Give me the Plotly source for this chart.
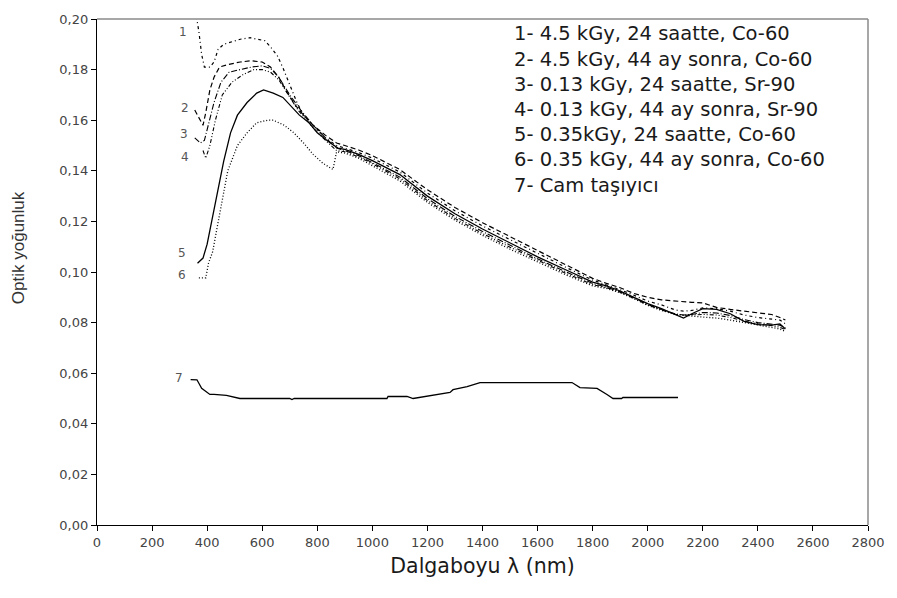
import plotly.graph_objects as go

# ---------------- data ----------------
nir_x = [900, 950, 1000, 1100, 1200, 1300, 1400, 1500, 1600, 1700, 1800, 1850, 1900,
         1950, 2000, 2050, 2100, 2130, 2160, 2200, 2250, 2300, 2350, 2400, 2450, 2480, 2500]

c1_vis_x = [355, 370, 380, 390, 410, 425, 440, 460, 490, 520, 556, 590, 610, 630, 655, 676, 700, 726, 750, 785, 830, 870]
c1_vis_y = [0.205, 0.195, 0.186, 0.181, 0.181, 0.183, 0.188, 0.190, 0.191, 0.192, 0.1926, 0.192, 0.1914, 0.189, 0.1855, 0.1805, 0.174, 0.167, 0.162, 0.158, 0.153, 0.150]
c1_nir_y = [0.1490, 0.1472, 0.1450, 0.1395, 0.1312, 0.1242, 0.1182, 0.1128, 0.1072, 0.1020, 0.0968, 0.0950, 0.0930,
            0.0908, 0.0885, 0.0870, 0.0850, 0.0845, 0.0848, 0.0858, 0.0855, 0.0845, 0.0830, 0.0820, 0.0815, 0.0810, 0.0795]

c2_vis_x = [355, 370, 385, 395, 410, 425, 445, 475, 520, 560, 600, 630, 660, 690, 720, 750, 785, 830, 870]
c2_vis_y = [0.164, 0.161, 0.158, 0.163, 0.172, 0.177, 0.181, 0.182, 0.183, 0.1835, 0.183, 0.181, 0.177, 0.171, 0.166, 0.162, 0.158, 0.154, 0.151]
c2_nir_y = [0.1500, 0.1482, 0.1460, 0.1405, 0.1325, 0.1255, 0.1195, 0.1140, 0.1085, 0.1030, 0.0975, 0.0955, 0.0938,
            0.0915, 0.0900, 0.0890, 0.0885, 0.0882, 0.0880, 0.0878, 0.0860, 0.0852, 0.0845, 0.0840, 0.0832, 0.0820, 0.0810]

c3_vis_x = [355, 375, 390, 405, 425, 450, 480, 520, 560, 600, 630, 660, 700, 740, 785, 830, 870]
c3_vis_y = [0.153, 0.151, 0.152, 0.158, 0.167, 0.175, 0.179, 0.180, 0.181, 0.1815, 0.1805, 0.177, 0.170, 0.164, 0.158, 0.153, 0.149]
c3_nir_y = [0.1480, 0.1460, 0.1432, 0.1375, 0.1290, 0.1220, 0.1160, 0.1105, 0.1052, 0.1002, 0.0955, 0.0940, 0.0922,
            0.0898, 0.0872, 0.0852, 0.0835, 0.0830, 0.0832, 0.0840, 0.0838, 0.0828, 0.0812, 0.0800, 0.0795, 0.0790, 0.0780]

c4_vis_x = [385, 395, 410, 430, 455, 490, 530, 570, 600, 630, 660, 690, 730, 785, 830, 870]
c4_vis_y = [0.148, 0.145, 0.150, 0.160, 0.170, 0.175, 0.178, 0.180, 0.180, 0.179, 0.176, 0.171, 0.164, 0.157, 0.152, 0.148]
c4_nir_y = [0.1475, 0.1455, 0.1428, 0.1368, 0.1282, 0.1212, 0.1152, 0.1098, 0.1046, 0.0996, 0.0950, 0.0938, 0.0920,
            0.0896, 0.0870, 0.0850, 0.0833, 0.0829, 0.0830, 0.0832, 0.0830, 0.0820, 0.0806, 0.0795, 0.0788, 0.0782, 0.0772]

c5_vis_x = [365, 385, 400, 420, 440, 460, 485, 510, 545, 580, 605, 640, 675, 700, 735, 770, 800, 840, 875]
c5_vis_y = [0.1035, 0.1055, 0.111, 0.122, 0.132, 0.1437, 0.155, 0.162, 0.167, 0.1707, 0.172, 0.1707, 0.169, 0.166, 0.162, 0.159, 0.155, 0.1516, 0.149]
c5_nir_y = [0.1485, 0.1465, 0.1440, 0.1385, 0.1300, 0.1230, 0.1170, 0.1115, 0.1060, 0.1010, 0.0960, 0.0945, 0.0925,
            0.0900, 0.0875, 0.0855, 0.0830, 0.0818, 0.0835, 0.0855, 0.0852, 0.0835, 0.0805, 0.0792, 0.0790, 0.0795, 0.0775]

c6_vis_x = [370, 395, 405, 420, 437, 455, 475, 510, 545, 580, 620, 640, 680, 715, 750, 785, 820, 857, 870]
c6_vis_y = [0.0977, 0.0977, 0.1035, 0.108, 0.118, 0.128, 0.140, 0.150, 0.155, 0.159, 0.160, 0.160, 0.158, 0.155, 0.151, 0.1465, 0.143, 0.1405, 0.1475]
c6_nir_y = [0.1470, 0.1450, 0.1420, 0.1360, 0.1275, 0.1205, 0.1145, 0.1090, 0.1040, 0.0990, 0.0945, 0.0935, 0.0918,
            0.0895, 0.0868, 0.0848, 0.0832, 0.0828, 0.0826, 0.0822, 0.0818, 0.0810, 0.0800, 0.0790, 0.0782, 0.0775, 0.0765]

c7_x = [340, 363, 380, 410, 425, 470, 519, 600, 700, 708, 716, 740, 1053, 1057, 1126, 1148, 1190, 1235, 1282,
        1293, 1344, 1391, 1500, 1600, 1725, 1754, 1816, 1852, 1874, 1905, 1910, 2000, 2110]
c7_y = [0.0575, 0.0574, 0.054, 0.0516, 0.0516, 0.0512, 0.0500, 0.0500, 0.0500, 0.0496, 0.0500, 0.0500, 0.0500, 0.0508, 0.0508, 0.0500, 0.0508, 0.0516, 0.0524,
        0.0535, 0.0547, 0.0563, 0.0563, 0.0563, 0.0563, 0.0543, 0.0540, 0.0516, 0.0500, 0.0500, 0.0504, 0.0504, 0.0504]

legend_lines = ["1- 4.5 kGy, 24 saatte, Co-60",
                "2- 4.5 kGy, 44 ay sonra, Co-60",
                "3- 0.13 kGy, 24 saatte, Sr-90",
                "4- 0.13 kGy, 44 ay sonra, Sr-90",
                "5- 0.35kGy, 24 saatte, Co-60",
                "6- 0.35 kGy, 44 ay sonra, Co-60",
                "7- Cam taşıyıcı"]
curve_labels = ["1", "2", "3", "4", "5", "6", "7"]
label_x = [335, 342, 338, 342, 331, 331, 320]
label_y = [0.1934, 0.1633, 0.1530, 0.1437, 0.1059, 0.0973, 0.0566]

x_ticks = list(range(0, 2801, 200))
y_ticks = [0.00, 0.02, 0.04, 0.06, 0.08, 0.10, 0.12, 0.14, 0.16, 0.18, 0.20]

# ---------------- figure ----------------
series = [
    (c1_vis_x + nir_x, c1_vis_y + c1_nir_y, "3px,3px,1px,3px", 1.2),
    (c2_vis_x + nir_x, c2_vis_y + c2_nir_y, "5px,3px", 1.2),
    (c3_vis_x + nir_x, c3_vis_y + c3_nir_y, "6px,2px,1px,2px", 1.1),
    (c4_vis_x + nir_x, c4_vis_y + c4_nir_y, "4px,2px,1px,2px,1px,2px", 1.1),
    (c5_vis_x + nir_x, c5_vis_y + c5_nir_y, "solid", 1.3),
    (c6_vis_x + nir_x, c6_vis_y + c6_nir_y, "1px,2px", 1.3),
    (c7_x, c7_y, "solid", 1.3),
]

fig = go.Figure()
for xs, ys, dash, w in series:
    fig.add_trace(go.Scatter(x=xs, y=ys, mode="lines",
                             line=dict(color="black", width=w, dash=dash),
                             showlegend=False, hoverinfo="skip"))

for t, lx, ly in zip(curve_labels, label_x, label_y):
    fig.add_annotation(x=lx, y=ly, xref="x", yref="y", text=t, showarrow=False,
                       xanchor="right", yanchor="middle", yshift=4,
                       font=dict(family="DejaVu Sans", size=12, color="#555"))

for i, line in enumerate(legend_lines):
    fig.add_annotation(x=0.538, y=1 - (28 + 25.5 * i - 13) / 512, xref="paper", yref="paper",
                       text=line, showarrow=False, xanchor="left", yanchor="middle",
                       font=dict(family="DejaVu Sans", size=19.5, color="#1a1a1a"))

# y-axis title (placed slightly above the axis centre, as in the reference)
fig.add_annotation(x=-0.1025, y=0.549, xref="paper", yref="paper", text="Optik yoğunluk",
                   textangle=-90, showarrow=False, xanchor="center", yanchor="middle",
                   font=dict(family="Liberation Sans", size=17, color="#333"))

# top / right frame
fig.add_shape(type="line", xref="paper", yref="paper", x0=0, x1=1, y0=1, y1=1,
              line=dict(color="#8a8a8a", width=1.5))
fig.add_shape(type="line", xref="paper", yref="paper", x0=1, x1=1, y0=0, y1=1,
              line=dict(color="#8a8a8a", width=1.5))

fig.update_layout(
    width=897, height=598,
    margin=dict(l=97, r=29, t=13, b=73),
    paper_bgcolor="white", plot_bgcolor="white",
    separators=",.",
    font=dict(family="DejaVu Sans", color="#444"),
    xaxis=dict(range=[0, 2800], tickvals=x_ticks, ticks="outside", ticklen=5,
               tickcolor="black", showline=True, linecolor="black", linewidth=1.3,
               showgrid=False, zeroline=False, tickfont=dict(size=13, color="#444"),
               title=dict(text="Dalgaboyu λ (nm)", font=dict(size=20.5, color="#1a1a1a"), standoff=9)),
    yaxis=dict(range=[0, 0.20], tickvals=y_ticks, tickformat=".2f", ticks="outside", ticklen=5,
               tickcolor="black", showline=True, linecolor="black", linewidth=1.3,
               showgrid=False, zeroline=False, tickfont=dict(size=13, color="#444")),
)

fig.write_html("out.html")
